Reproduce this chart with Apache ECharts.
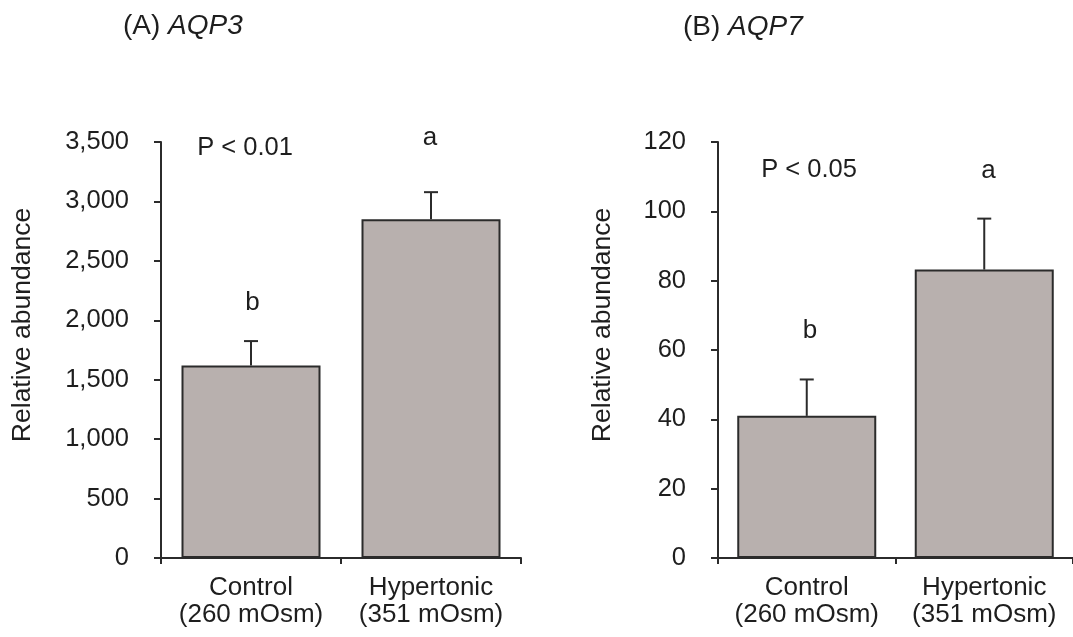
<!DOCTYPE html>
<html>
<head>
<meta charset="utf-8">
<script src="https://cdn.jsdelivr.net/npm/echarts@6/dist/echarts.min.js"></script>
<style>
html,body{margin:0;padding:0;background:#fff;}
#chart{width:1073px;height:637px;}
</style>
</head>
<body>
<div id="chart"></div>
<script>
// ---- data ----
const categories = ['Control\n(260 mOsm)', 'Hypertonic\n(351 mOsm)'];
const aqp3Mean = [1620, 2850];
const aqp3Err = [205, 228];
const aqp7Mean = [41, 83.2];
const aqp7Err = [10.5, 14.7];
const aqp3Ticks = { min: 0, max: 3500, interval: 500 };
const aqp7Ticks = { min: 0, max: 120, interval: 20 };
const aqp3Letters = ['b', 'a'];
const aqp7Letters = ['b', 'a'];

const FONT = '"Liberation Sans", Arial, sans-serif';
const TXT = '#1e1e1e';
const LINE = '#2b2b2b';
const BAR = '#b8b0ae';

const chart = echarts.init(document.getElementById('chart'), null, {renderer: 'canvas'});

function errSeries(idx, means, errs) {
  return {
    type: 'custom',
    xAxisIndex: idx, yAxisIndex: idx,
    z: 1,
    silent: true,
    data: means.map((m, i) => [i, m, m + errs[i]]),
    renderItem: function (params, api) {
      const lo = api.coord([api.value(0), api.value(1)]);
      const hi = api.coord([api.value(0), api.value(2)]);
      const hw = 7;
      const st = { stroke: LINE, lineWidth: 2 };
      return {
        type: 'group',
        children: [
          { type: 'line', shape: { x1: lo[0], y1: lo[1], x2: hi[0], y2: hi[1] }, style: st },
          { type: 'line', shape: { x1: hi[0] - hw, y1: hi[1], x2: hi[0] + hw, y2: hi[1] }, style: st }
        ]
      };
    }
  };
}

function xAx(idx) {
  return {
    type: 'category', gridIndex: idx, data: categories,
    axisLine: { lineStyle: { color: LINE, width: 2 } },
    axisTick: { show: true, length: 6, inside: false, lineStyle: { color: LINE, width: 2 } },
    axisLabel: { interval: 0, color: TXT, fontFamily: FONT, fontSize: 26, lineHeight: 27, margin: 16 }
  };
}
function yAx(idx, t, fmt) {
  return {
    type: 'value', gridIndex: idx, min: t.min, max: t.max, interval: t.interval,
    splitLine: { show: false },
    axisLine: { show: true, lineStyle: { color: LINE, width: 2 } },
    axisTick: { show: true, length: 7, lineStyle: { color: LINE, width: 2 } },
    axisLabel: { color: TXT, fontFamily: FONT, fontSize: 25.5, margin: 32, formatter: fmt }
  };
}
function barSeries(idx, means) {
  return {
    type: 'bar', xAxisIndex: idx, yAxisIndex: idx, data: means, barWidth: 139, z: 2,
    itemStyle: { color: BAR, borderColor: LINE, borderWidth: 2 },
    silent: true
  };
}
function txt(x, y, s, size, style) {
  return {
    type: 'text', x: x, y: y, silent: true,
    style: { text: s, fill: TXT, font: (style || '') + ' ' + size + 'px ' + FONT, align: 'center', verticalAlign: 'middle' }
  };
}
const titleRich = {
  n: { fontFamily: FONT, fontSize: 28, fontWeight: 'normal', color: TXT, lineHeight: 30 },
  i: { fontFamily: FONT, fontSize: 28, fontWeight: 'normal', fontStyle: 'italic', color: TXT, lineHeight: 30 }
};

const option = {
  backgroundColor: '#ffffff',
  animation: false,
  title: [
    { text: '{n|(A) }{i|AQP3}', left: 123, top: 11, padding: 0, textStyle: { fontWeight: 'normal', rich: titleRich } },
    { text: '{n|(B) }{i|AQP7}', left: 683, top: 12, padding: 0, textStyle: { fontWeight: 'normal', rich: titleRich } }
  ],
  grid: [
    { left: 161, right: 552, top: 142, bottom: 79 },
    { left: 718, right: -5, top: 142, bottom: 79 }
  ],
  xAxis: [xAx(0), xAx(1)],
  yAxis: [
    yAx(0, aqp3Ticks, v => v.toLocaleString('en-US')),
    yAx(1, aqp7Ticks, v => String(v))
  ],
  series: [
    barSeries(0, aqp3Mean), errSeries(0, aqp3Mean, aqp3Err),
    barSeries(1, aqp7Mean), errSeries(1, aqp7Mean, aqp7Err)
  ],
  graphic: [
    { type: 'text', x: 23, y: 325, rotation: Math.PI / 2, silent: true,
      style: { text: 'Relative abundance', fill: TXT, font: '26.5px ' + FONT, align: 'center', verticalAlign: 'middle' } },
    { type: 'text', x: 603, y: 325, rotation: Math.PI / 2, silent: true,
      style: { text: 'Relative abundance', fill: TXT, font: '26.5px ' + FONT, align: 'center', verticalAlign: 'middle' } },
    txt(245, 148, 'P < 0.01', 25.5),
    txt(252.5, 303, aqp3Letters[0], 26),
    txt(430, 138, aqp3Letters[1], 26),
    txt(809, 170, 'P < 0.05', 25.5),
    txt(810, 331, aqp7Letters[0], 26),
    txt(988.5, 171, aqp7Letters[1], 26)
  ]
};
chart.setOption(option);
</script>
</body>
</html>
